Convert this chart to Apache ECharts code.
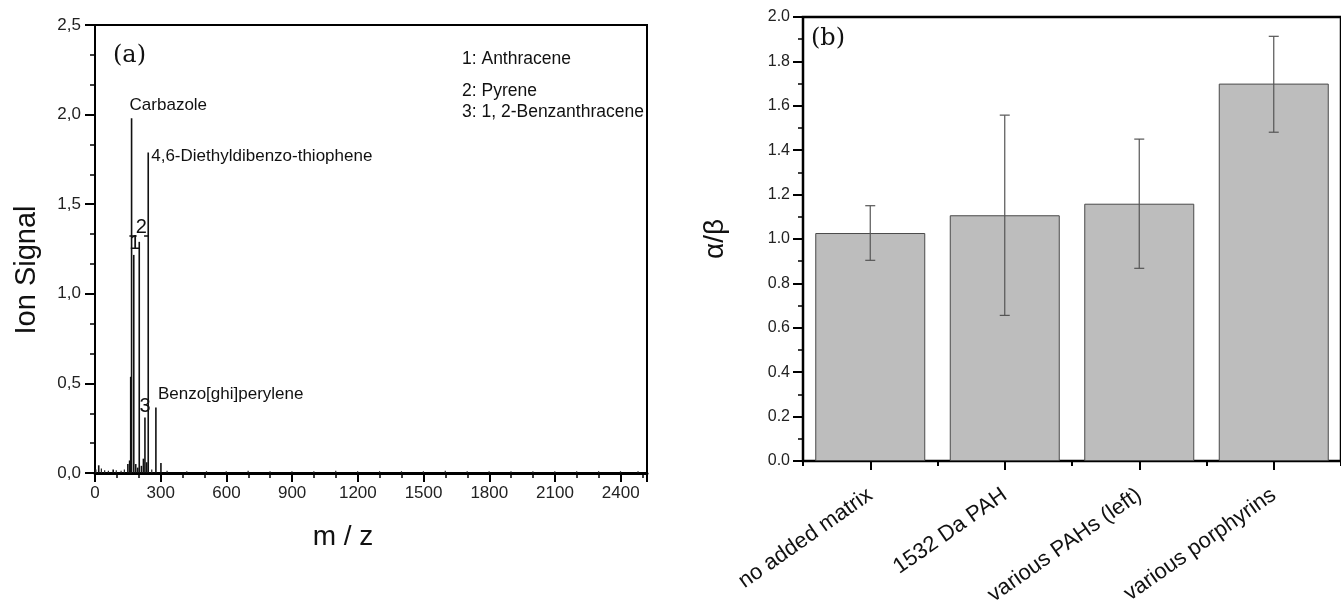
<!DOCTYPE html>
<html><head><meta charset="utf-8">
<script src="https://cdn.jsdelivr.net/npm/echarts@6/dist/echarts.min.js"></script>
<style>html,body{margin:0;padding:0;background:#fff}#c{width:1341px;height:608px}</style>
</head><body><div id="c"></div>
<script>
// ---------- Panel (a): mass spectrum ----------
const peakMz        = [17, 83, 150, 158, 163, 167, 177, 186, 195, 202, 212, 221, 228, 236, 243, 278, 301];
const peakIntensity = [0.043, 0.02, 0.05, 0.07, 0.537, 1.98, 1.217, 0.05, 0.03, 1.29, 0.04, 0.08, 0.31, 0.06, 1.789, 0.366, 0.056];
const peakLabels    = ['', '', '', '', '', 'Carbazole', '1', '', '', '2', '', '', '3', '', '4,6-Diethyldibenzo-thiophene', 'Benzo[ghi]perylene', ''];
const noiseMz        = [5, 30, 45, 62, 98, 120, 135, 260, 330, 420, 510, 600, 700, 800, 900, 1000, 1100, 1200, 1300, 1400, 1500, 1600, 1700, 1800, 1900, 2000, 2100, 2200, 2300, 2400, 2480];
const noiseIntensity = [0.02, 0.025, 0.015, 0.012, 0.015, 0.012, 0.02, 0.02, 0.012, 0.01, 0.01, 0.01, 0.012, 0.01, 0.01, 0.01, 0.012, 0.01, 0.01, 0.01, 0.01, 0.012, 0.01, 0.01, 0.01, 0.01, 0.01, 0.01, 0.01, 0.01, 0.01];
const bracketMz = [[157, 190], [224, 243]];
const bracketLevel = 1.325;
const compoundKey = ['1: Anthracene', '2: Pyrene', '3: 1, 2-Benzanthracene'];

// ---------- Panel (b): alpha/beta ratios ----------
const matrixCategories = ['no added matrix', '1532 Da PAH', 'various PAHs (left)', 'various porphyrins'];
const ratioValues = [1.027, 1.107, 1.159, 1.70];
const ratioLower  = [0.904, 0.656, 0.868, 1.481];
const ratioUpper  = [1.150, 1.558, 1.450, 1.913];

const FONT = 'Liberation Sans, Arial, sans-serif';
const SERIF = 'DejaVu Serif, serif';

const labelStyles = {
  'Carbazole': {position: 'top', align: 'left', verticalAlign: 'bottom', distance: 4, offset: [-2, 0], fontSize: 17},
  '4,6-Diethyldibenzo-thiophene': {position: 'top', align: 'left', verticalAlign: 'middle', distance: 0, offset: [3, 4], fontSize: 17},
  'Benzo[ghi]perylene': {position: 'top', align: 'left', verticalAlign: 'bottom', distance: 5, offset: [2, 0], fontSize: 17},
  '1': {position: 'top', distance: 1, offset: [1, 0], fontSize: 20},
  '2': {position: 'top', distance: 4, offset: [2, 0], fontSize: 20},
  '3': {position: 'top', distance: 1, offset: [0, 0], fontSize: 20}
};

const peakData = peakMz.map((m, i) => {
  const name = peakLabels[i];
  const item = {value: [m, peakIntensity[i]]};
  if (name && labelStyles[name]) {
    item.label = Object.assign({show: true, formatter: name, color: '#111', fontFamily: FONT}, labelStyles[name]);
  }
  return item;
});
const noiseData = noiseMz.map((m, i) => [m, noiseIntensity[i]]);

const chart = echarts.init(document.getElementById('c'), null, {renderer: 'canvas'});

const keyStyle = {fontFamily: FONT, fontSize: 17.5, fontWeight: 'normal', color: '#111'};
const option = {
  animation: false,
  backgroundColor: '#fff',
  title: [
    {text: '(a)', left: 113, top: 44, padding: 0, textStyle: {fontFamily: SERIF, fontSize: 24, fontWeight: 'normal', color: '#111'}},
    {text: '(b)', left: 811, top: 27, padding: 0, textStyle: {fontFamily: SERIF, fontSize: 24, fontWeight: 'normal', color: '#111'}},
    {text: compoundKey[0], left: 462, top: 50, padding: 0, textStyle: keyStyle},
    {text: compoundKey[1], left: 462, top: 82, padding: 0, textStyle: keyStyle},
    {text: compoundKey[2], left: 462, top: 103, padding: 0, textStyle: keyStyle}
  ],
  grid: [
    {left: 95, top: 25, width: 552, height: 448, show: true, borderColor: '#000', borderWidth: 2, backgroundColor: 'transparent'},
    {left: 803, top: 17, width: 547, height: 446, show: true, borderColor: '#000', borderWidth: 2.5, backgroundColor: 'transparent'}
  ],
  xAxis: [
    {
      type: 'value', gridIndex: 0, min: 0, max: 2520, interval: 300,
      name: 'm / z', nameLocation: 'middle', nameGap: 50,
      nameTextStyle: {fontFamily: FONT, fontSize: 28, color: '#111', padding: [0, 56, 0, 0]},
      axisLine: {show: true, lineStyle: {color: '#000', width: 3}},
      axisTick: {show: true, inside: false, length: 9, lineStyle: {color: '#000', width: 2}},
      minorTick: {show: true, splitNumber: 3, length: 5, lineStyle: {color: '#000', width: 1.5}},
      splitLine: {show: false},
      axisLabel: {fontFamily: FONT, fontSize: 17, color: '#222', margin: 12,
        formatter: v => (v % 300 === 0 ? String(v) : '')}
    },
    {
      type: 'category', gridIndex: 1, data: matrixCategories, boundaryGap: true,
      axisLine: {show: true, lineStyle: {color: '#000', width: 2}},
      axisTick: {show: true, alignWithLabel: true, inside: false, length: 9, lineStyle: {color: '#000', width: 2}},
      splitLine: {show: false},
      axisLabel: {fontFamily: FONT, fontSize: 22, color: '#111', rotate: 35, margin: 32, interval: 0}
    },
    {
      type: 'category', gridIndex: 1, data: matrixCategories, boundaryGap: true, position: 'bottom',
      axisLine: {show: false},
      axisTick: {show: true, alignWithLabel: false, inside: false, length: 5, lineStyle: {color: '#000', width: 2}},
      splitLine: {show: false},
      axisLabel: {show: false}
    }
  ],
  yAxis: [
    {
      type: 'value', gridIndex: 0, min: 0, max: 2.5, interval: 0.5,
      name: 'Ion Signal', nameLocation: 'middle', nameGap: 54, nameRotate: 90,
      nameTextStyle: {fontFamily: FONT, fontSize: 29, color: '#111', padding: [0, 42, 0, 0]},
      axisLine: {show: true, lineStyle: {color: '#000', width: 2}},
      axisTick: {show: true, inside: false, length: 10, lineStyle: {color: '#000', width: 2}},
      minorTick: {show: true, splitNumber: 3, length: 5, lineStyle: {color: '#000', width: 1.5}},
      splitLine: {show: false},
      axisLabel: {fontFamily: FONT, fontSize: 17, color: '#222', margin: 14,
        formatter: v => v.toFixed(1).replace('.', ',')}
    },
    {
      type: 'value', gridIndex: 1, min: 0, max: 2.0, interval: 0.2,
      name: 'α/β', nameLocation: 'middle', nameGap: 74, nameRotate: 90,
      nameTextStyle: {fontFamily: FONT, fontSize: 28, color: '#111'},
      axisLine: {show: true, lineStyle: {color: '#000', width: 2}},
      axisTick: {show: true, inside: false, length: 10, lineStyle: {color: '#000', width: 2}},
      minorTick: {show: true, splitNumber: 2, length: 5, lineStyle: {color: '#000', width: 1.5}},
      splitLine: {show: false},
      axisLabel: {fontFamily: FONT, fontSize: 16, color: '#222', margin: 13,
        formatter: v => v.toFixed(1)}
    }
  ],
  series: [
    {
      type: 'bar', name: 'noise', xAxisIndex: 0, yAxisIndex: 0,
      data: noiseData, barWidth: 1.2, itemStyle: {color: '#222'}, silent: true
    },
    {
      type: 'bar', name: 'peaks', xAxisIndex: 0, yAxisIndex: 0,
      data: peakData, barWidth: 1.6, barGap: '-100%', itemStyle: {color: '#111'},
      markLine: {
        silent: true, symbol: 'none', label: {show: false},
        lineStyle: {color: '#111', width: 1.5, type: 'solid'},
        data: bracketMz.map(r => [{coord: [r[0], bracketLevel]}, {coord: [r[1], bracketLevel]}])
      }
    },
    {
      type: 'bar', name: 'ratio', xAxisIndex: 1, yAxisIndex: 1,
      data: ratioValues, barWidth: 110,
      itemStyle: {color: '#bdbdbd', borderColor: '#4a4a4a', borderWidth: 1}
    },
    {
      type: 'custom', name: 'error', xAxisIndex: 1, yAxisIndex: 1, z: 5,
      data: ratioValues.map((v, i) => [i, ratioLower[i], ratioUpper[i]]),
      renderItem: function (params, api) {
        const lo = api.coord([api.value(0), api.value(1)]);
        const hi = api.coord([api.value(0), api.value(2)]);
        const hw = 5;
        const st = {stroke: '#555', lineWidth: 1.2};
        return {type: 'group', children: [
          {type: 'line', shape: {x1: hi[0], y1: hi[1], x2: lo[0], y2: lo[1]}, style: st},
          {type: 'line', shape: {x1: hi[0] - hw, y1: hi[1], x2: hi[0] + hw, y2: hi[1]}, style: st},
          {type: 'line', shape: {x1: lo[0] - hw, y1: lo[1], x2: lo[0] + hw, y2: lo[1]}, style: st}
        ]};
      }
    }
  ]
};
chart.setOption(option);
</script></body></html>
